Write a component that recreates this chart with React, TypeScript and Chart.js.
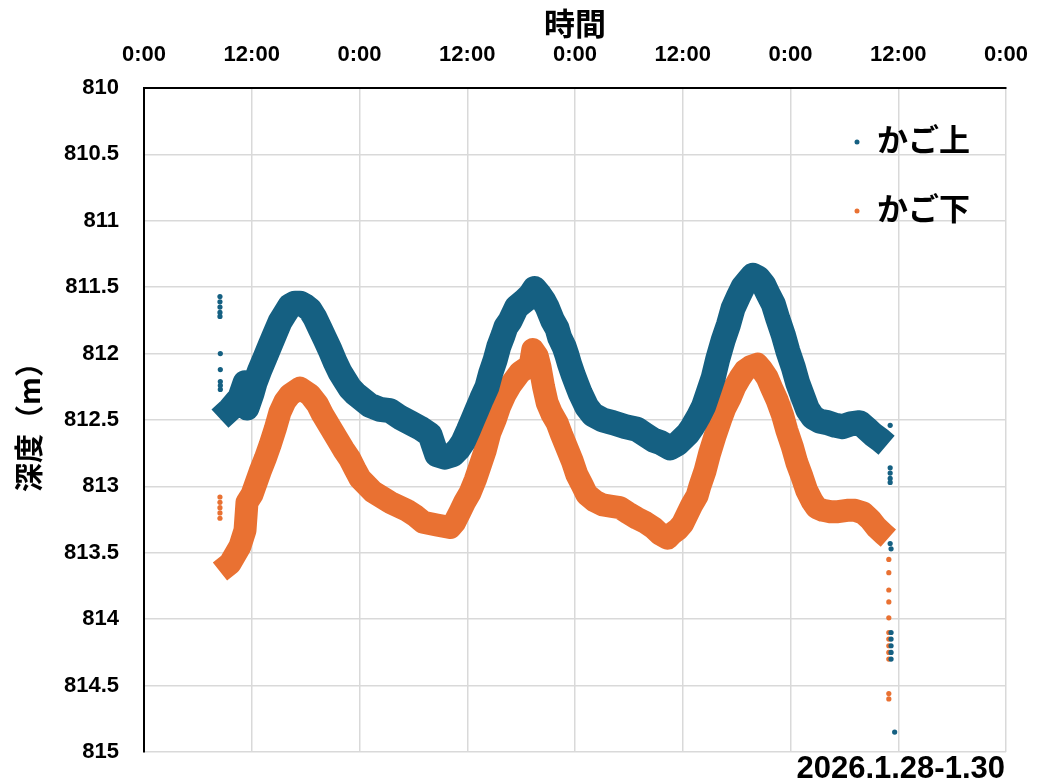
import React, { useEffect, useRef } from 'react';
import { Chart, registerables } from 'chart.js';

Chart.register(...registerables);

// ---- data (hours from the first 0:00, depth in m) ----
const seriesNames = ['かご上', 'かご下'];
const seriesColors = ['#156082', '#e97132'];
const xTickLabels = ['0:00', '12:00'];
const xTitle = '時間';
const yTitle = '深度（m）';
const dateLabel = '2026.1.28-1.30';

const upperHours = [
  8.46, 9.58, 10.69, 11.25, 11.47, 12.03, 12.36, 12.92, 13.48, 14.03, 14.59, 15.15, 15.7, 16.26, 16.82,
  17.37, 17.93, 18.49, 19.04, 19.6, 20.16, 20.71, 21.27, 21.83, 22.38, 22.94, 23.5, 24.06, 25.17, 26.28,
  27.4, 28.51, 29.62, 30.74, 31.85, 32.2, 32.6, 33.5, 34.4, 35.0, 35.5, 36.1, 36.6, 37.1, 37.6, 38.2,
  38.6, 39.1, 39.5, 40.0, 40.3, 40.8, 41.5, 42.4, 43.0, 43.5, 44.1, 44.5, 44.9, 45.5, 46.0, 46.3, 46.8,
  47.1, 47.4, 47.8, 48.2, 48.6, 49.3, 50.0, 51.1, 52.2, 53.6, 54.9, 55.8, 56.7, 57.5, 58.6, 59.4, 60.0,
  60.6, 61.1, 61.7, 62.3, 62.8, 63.4, 63.9, 64.5, 65.1, 65.6, 66.2, 66.7, 67.3, 67.8, 68.4, 69.0, 69.5,
  70.1, 70.6, 71.2, 71.7, 72.3, 72.8, 73.4, 73.9, 74.5, 75.3, 76.1, 77.0, 77.8, 78.7, 79.7, 80.4, 81.2,
  82.0, 82.7,
];
const upperDepth = [
  812.49, 812.42, 812.33, 812.22, 812.41, 812.3, 812.22, 812.12, 812.03, 811.94, 811.85, 811.76, 811.7,
  811.64, 811.62, 811.62, 811.64, 811.67, 811.73, 811.81, 811.89, 811.97, 812.06, 812.14, 812.2, 812.26,
  812.3, 812.33, 812.39, 812.42, 812.43, 812.48, 812.52, 812.56, 812.61, 812.68, 812.76, 812.78, 812.76,
  812.72, 812.67, 812.58, 812.5, 812.42, 812.34, 812.25, 812.15, 812.05, 811.95, 811.86, 811.8, 811.75,
  811.65, 811.6, 811.56, 811.51, 811.56, 811.6, 811.65, 811.75, 811.81, 811.88, 811.95, 812.01, 812.08,
  812.16, 812.23, 812.3, 812.4, 812.46, 812.5, 812.52, 812.55, 812.57, 812.61, 812.65, 812.67, 812.71,
  812.68, 812.64, 812.6, 812.55, 812.48, 812.4, 812.3, 812.18, 812.04, 811.9, 811.78, 811.66, 811.57,
  811.5, 811.45, 811.41, 811.43, 811.48, 811.55, 811.63, 811.74, 811.86, 811.98, 812.1, 812.22, 812.33,
  812.42, 812.48, 812.51, 812.52, 812.54, 812.55, 812.53, 812.52, 812.56, 812.61, 812.65, 812.69,
];
const upperStrayHours = [
  8.46, 8.46, 8.46, 8.46, 8.46, 8.5, 8.5, 8.5, 8.5, 8.5,
  83.1, 83.1, 83.1, 83.1, 83.1, 83.1, 83.2, 83.2, 83.2, 83.2, 83.2, 83.2, 83.6,
];
const upperStrayDepth = [
  811.57, 811.61, 811.65, 811.69, 811.72, 812.0, 812.12, 812.21, 812.24, 812.27,
  812.54, 812.86, 812.9, 812.94, 812.97, 813.43, 813.47, 814.1, 814.15, 814.2, 814.25, 814.3, 814.85,
];

const lowerHours = [
  8.46, 9.58, 10.69, 11.25, 11.47, 12.03, 12.92, 13.5, 14.03, 14.6, 15.15, 15.7, 16.26, 17.37, 18.49,
  19.3, 19.9, 20.7, 21.5, 22.2, 22.9, 23.5, 24.06, 25.5, 27.4, 29.3, 30.2, 31.1, 32.6, 34.1, 34.6, 35.2,
  35.7, 36.3, 36.9, 37.4, 38.0, 38.5, 39.1, 39.6, 40.2, 40.8, 41.9, 43.0, 43.3, 43.8, 44.1, 44.5, 44.9,
  45.4, 46.0, 46.5, 47.1, 47.7, 48.2, 48.8, 49.3, 50.2, 51.1, 52.1, 53.0, 53.9, 54.9, 55.8, 56.7, 57.5,
  58.3, 58.9, 59.5, 60.0, 60.5, 61.0, 61.6, 61.9, 62.5, 63.0, 63.6, 64.2, 64.7, 65.3, 65.8, 66.4, 66.9,
  67.5, 68.3, 68.8, 69.4, 69.9, 70.5, 71.1, 71.6, 72.2, 72.7, 73.3, 73.8, 74.4, 74.9, 75.6, 76.4, 77.3,
  78.3, 79.2, 80.1, 80.9, 81.6, 82.4, 82.9,
];
const lowerDepth = [
  813.64, 813.58, 813.45, 813.33, 813.12, 813.06, 812.89, 812.79, 812.69, 812.57, 812.44, 812.36, 812.31,
  812.26, 812.31, 812.38, 812.46, 812.55, 812.64, 812.72, 812.79, 812.87, 812.94, 813.04, 813.12, 813.18,
  813.22, 813.27, 813.29, 813.31, 813.27, 813.19, 813.12, 813.05, 812.95, 812.85, 812.73, 812.6, 812.5,
  812.4, 812.31, 812.24, 812.14, 812.09, 811.97, 812.02, 812.1, 812.25, 812.37, 812.45, 812.52, 812.61,
  812.71, 812.81, 812.91, 812.99, 813.06, 813.11, 813.14, 813.15, 813.16, 813.2, 813.24, 813.27, 813.31,
  813.36, 813.39, 813.35, 813.32, 813.28, 813.21, 813.14, 813.07, 813.0, 812.88, 812.75, 812.62, 812.5,
  812.41, 812.33, 812.25, 812.18, 812.13, 812.1, 812.08, 812.12, 812.18, 812.26, 812.35, 812.46, 812.58,
  812.7, 812.82, 812.93, 813.03, 813.11, 813.16, 813.18, 813.19, 813.19, 813.18, 813.18, 813.2, 813.25,
  813.31, 813.36, 813.39,
];
const lowerStrayHours = [
  8.46, 8.46, 8.46, 8.46, 8.46,
  82.95, 82.95, 82.95, 82.95, 82.95, 82.95, 82.95, 82.95, 82.95, 82.95, 82.95, 82.95,
];
const lowerStrayDepth = [
  813.08, 813.12, 813.16, 813.2, 813.24,
  813.55, 813.65, 813.78, 813.87, 813.99, 814.1, 814.15, 814.2, 814.25, 814.3, 814.56, 814.6,
];

const xMin = 0;
const xMax = 96;
const xStep = 12;
const yMin = 810;
const yMax = 815;
const yStep = 0.5;

const toPoints = (xs: number[], ys: number[]) => xs.map((x, i) => ({ x, y: ys[i] }));

const FONT = "'Liberation Sans', 'Noto Sans CJK JP', sans-serif";
const CJK = "'Noto Sans CJK JP', 'Liberation Sans', sans-serif";

const overlayPlugin = {
  id: 'overlay',
  afterDraw(chart: any) {
    const { ctx, chartArea } = chart;
    ctx.save();
    const lx = chartArea.right - 149;
    const ly = [139, 208];
    seriesNames.forEach((name, i) => {
      ctx.fillStyle = seriesColors[i];
      ctx.beginPath();
      ctx.arc(lx, ly[i] + 3, 2.5, 0, Math.PI * 2);
      ctx.fill();
      ctx.fillStyle = '#000';
      ctx.font = `bold 31px ${CJK}`;
      ctx.textAlign = 'left';
      ctx.textBaseline = 'middle';
      ctx.fillText(name, lx + 20, ly[i]);
    });
    ctx.fillStyle = '#000';
    ctx.font = `bold 31px ${FONT}`;
    ctx.textAlign = 'right';
    ctx.textBaseline = 'middle';
    ctx.fillText(dateLabel, chartArea.right - 1, 769);
    ctx.restore();
  },
};

export default function App() {
  const canvasRef = useRef<HTMLCanvasElement | null>(null);

  useEffect(() => {
    document.body.style.margin = '0';
    const canvas = canvasRef.current;
    if (!canvas) return;
    const band = (xs: number[], ys: number[], color: string, width: number) => ({
      data: toPoints(xs, ys),
      showLine: true,
      borderColor: color,
      backgroundColor: color,
      borderWidth: width,
      borderJoinStyle: 'round',
      borderCapStyle: 'butt',
      pointRadius: 0,
      tension: 0,
    });
    const strays = (xs: number[], ys: number[], color: string) => ({
      data: toPoints(xs, ys),
      showLine: false,
      backgroundColor: color,
      borderColor: color,
      borderWidth: 0,
      pointRadius: 2.6,
    });
    const chart = new Chart(canvas, {
      type: 'scatter',
      data: {
        datasets: [
          { label: seriesNames[0] + ' stray', ...strays(upperStrayHours, upperStrayDepth, seriesColors[0]) } as any,
          { label: seriesNames[0], ...band(upperHours, upperDepth, seriesColors[0], 25) } as any,
          { label: seriesNames[1] + ' stray', ...strays(lowerStrayHours, lowerStrayDepth, seriesColors[1]) } as any,
          { label: seriesNames[1], ...band(lowerHours, lowerDepth, seriesColors[1], 23) } as any,
        ],
      },
      options: {
        animation: false,
        responsive: false,
        devicePixelRatio: 1,
        layout: { padding: { left: 0, right: 34, top: 0, bottom: 32 } },
        plugins: { legend: { display: false }, tooltip: { enabled: false } },
        scales: {
          x: {
            type: 'linear',
            position: 'top',
            min: xMin,
            max: xMax,
            afterFit: (s: any) => { s.height = 88; s.paddingLeft = 0; s.paddingRight = 0; },
            ticks: {
              stepSize: xStep,
              padding: 20,
              color: '#000',
              font: { family: FONT, size: 22, weight: 'bold' },
              callback: (v: any) => (Number(v) % 24 === 0 ? xTickLabels[0] : xTickLabels[1]),
              maxRotation: 0,
              autoSkip: false,
            },
            grid: { color: '#d9d9d9', lineWidth: 1.5, drawTicks: false },
            border: { display: true, color: '#000', width: 2 },
            title: {
              display: true,
              text: xTitle,
              color: '#000',
              font: { family: CJK, size: 31, weight: 'bold' },
              padding: { top: 5, bottom: 0 },
            },
          },
          y: {
            type: 'linear',
            reverse: true,
            min: yMin,
            max: yMax,
            afterFit: (s: any) => { s.width = 144; s.paddingTop = 0; s.paddingBottom = 0; },
            ticks: {
              stepSize: yStep,
              padding: 25,
              color: '#000',
              font: { family: FONT, size: 22, weight: 'bold' },
              callback: (v: any) => String(v),
            },
            grid: { color: '#d9d9d9', lineWidth: 1.5, drawTicks: false },
            border: { display: true, color: '#000', width: 2 },
            title: {
              display: true,
              text: yTitle,
              color: '#000',
              font: { family: CJK, size: 29, weight: 'bold' },
              padding: { top: 12, bottom: 0 },
            },
          },
        },
      } as any,
      plugins: [overlayPlugin],
    });
    return () => chart.destroy();
  }, []);

  return (
    <div style={{ width: 1040, height: 784 }}>
      <canvas ref={canvasRef} width={1040} height={784} style={{ display: 'block' }} />
    </div>
  );
}
